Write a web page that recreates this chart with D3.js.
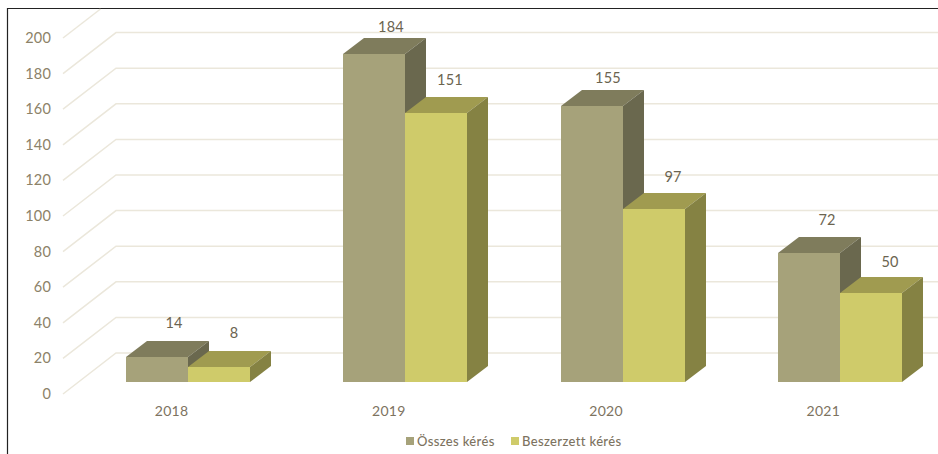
<!DOCTYPE html>
<meta charset="utf-8">

<style>
body { margin: 0; background: #fff; }
text { font-family: Lato, "Open Sans", sans-serif; }
.tick-label { font-size: 14.5px; fill: #8c8268; letter-spacing: 0.2px; }
.year-label { font-size: 14px; fill: #7d735f; letter-spacing: 0.3px; }
.value-label { font-size: 14.5px; fill: #6b6450; letter-spacing: 0.2px; }
.legend-label { font-size: 13px; fill: #7d735f; letter-spacing: 0.35px; font-weight: 500; }
.grid { fill: none; stroke: #ebe7db; stroke-width: 1.5px; }
</style>

<body>
<script src="https://d3js.org/d3.v7.min.js"></script>
<svg id="chart" width="938" height="454"></svg>

<script>
var years = ["2018", "2019", "2020", "2021"];
var osszes = [14, 184, 155, 72];
var beszerzett = [8, 151, 97, 50];
var seriesNames = ["Összes kérés", "Beszerzett kérés"];
var yTicks = [0, 20, 40, 60, 80, 100, 120, 140, 160, 180, 200];

// [front, top, side] per series
var seriesColors = [
  ["#a6a27a", "#7f7c5c", "#6a684e"],
  ["#cfcb6a", "#a09b50", "#858243"]
];

// labels sit a little off the bar, they were placed by hand in the original
var labelNudge = [
  [[17, -34], [15, -34]],
  [[17, -27], [14, -33]],
  [[16, -28], [19, -32]],
  [[18, -33], [19, -31]]
];

var svg = d3.select("#chart");

var y = d3.scaleLinear().domain([0, 200]).range([394, 38]);
var x0 = d3.scaleBand().domain(years).range([63, 932]);

// depth of the box and of the floor, in pixels
var wallDx = 53, wallDy = -41;
var barDx = 21, barDy = -16;
var floorDx = 16.5, floorDy = -12.5;
var barW = 62;

svg.append("path")
    .attr("d", "M7.5,454V8.5H938")
    .attr("fill", "none")
    .attr("stroke", "#222")
    .attr("stroke-width", 1.2);

// walls
svg.append("g").selectAll("path")
    .data(yTicks)
    .enter().append("path")
    .attr("class", "grid")
    .attr("d", function(d) {
      var a = y(d), b = a + wallDy;
      if (b < 9) {
        // top line leaves the frame
        var t = (a - 9) / -wallDy;
        return "M63," + a + "L" + (63 + wallDx * t) + ",9";
      }
      return "M63," + a + "L" + (63 + wallDx) + "," + b + "H938";
    });

svg.append("g").selectAll("text")
    .data(yTicks)
    .enter().append("text")
    .attr("class", "tick-label")
    .attr("x", 51)
    .attr("y", function(d) { return y(d); })
    .attr("dy", "0.35em")
    .attr("text-anchor", "end")
    .text(function(d) { return d; });

svg.append("g").selectAll("text")
    .data(years)
    .enter().append("text")
    .attr("class", "year-label")
    .attr("x", function(d) { return x0(d) + x0.bandwidth() / 2; })
    .attr("y", 411)
    .attr("dy", "0.35em")
    .attr("text-anchor", "middle")
    .text(function(d) { return d; });

function drawBar(g, px, base, top, c) {
  var w = barW;
  g.append("path").attr("fill", c[1]).attr("d",
    "M" + px + "," + top + "l" + barDx + "," + barDy + "h" + w + "l" + (-barDx) + "," + (-barDy) + "z");
  g.append("path").attr("fill", c[2]).attr("d",
    "M" + (px + w) + "," + top + "l" + barDx + "," + barDy + "V" + (base + barDy) + "l" + (-barDx) + "," + (-barDy) + "z");
  g.append("rect").attr("fill", c[0])
    .attr("x", px).attr("y", top).attr("width", w).attr("height", base - top);
}

var bars = svg.append("g");
years.forEach(function(year, i) {
  var center = Math.round(x0(year) + x0.bandwidth() / 2 + floorDx);
  // series 1 first so its neighbour covers the side face
  [osszes, beszerzett].forEach(function(values, s) {
    var px = center - barW + s * barW;
    var top = Math.round(y(values[i]) + floorDy);
    var base = Math.round(y(0) + floorDy);
    drawBar(bars, px, base, top, seriesColors[s]);
    bars.append("text")
      .attr("class", "value-label")
      .attr("x", px + barW / 2 + labelNudge[i][s][0])
      .attr("y", top + labelNudge[i][s][1])
      .attr("dy", "0.35em")
      .attr("text-anchor", "middle")
      .text(values[i]);
  });
});

// legend
var legendX = [406, 511];
var legend = svg.append("g").selectAll("g")
    .data(seriesNames)
    .enter().append("g")
    .attr("transform", function(d, i) { return "translate(" + legendX[i] + ",437)"; });

legend.append("rect")
    .attr("width", 8)
    .attr("height", 8)
    .attr("fill", function(d, i) { return seriesColors[i][0]; });

legend.append("text")
    .attr("class", "legend-label")
    .attr("x", 11)
    .attr("y", 4)
    .attr("dy", "0.35em")
    .text(function(d) { return d; });
</script>
</body>
